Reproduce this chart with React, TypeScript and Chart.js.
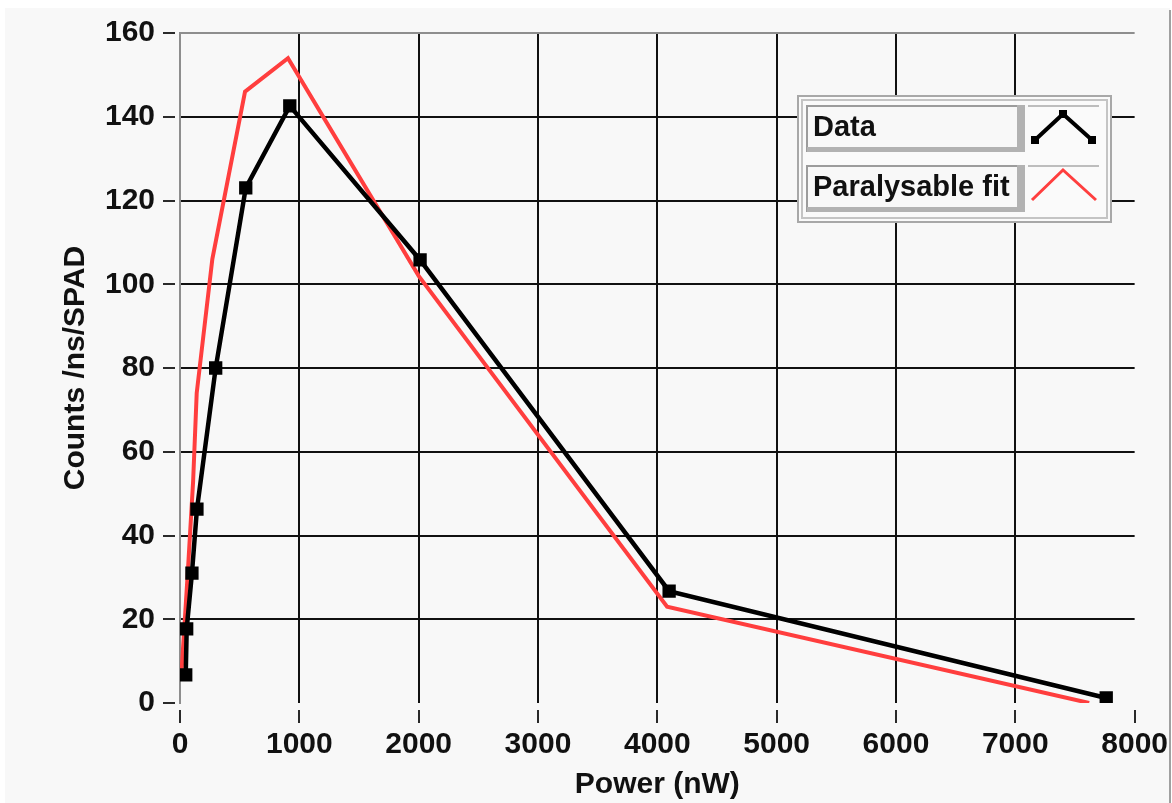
import React, { useEffect, useRef } from 'react';
import { Chart, registerables } from 'chart.js';

Chart.register(...registerables);

// Measured SPAD count rate versus optical power
const powerNW = [48, 56, 100, 142, 299, 551, 920, 2012, 4099, 7762];
const countsPerNs = [6.7, 17.7, 31.0, 46.3, 80.0, 123.0, 142.6, 105.8, 26.7, 1.2];

// Paralysable dead-time model evaluated along the power range
const fitPowerNW = [14, 65, 110, 140, 271, 545, 905, 2000, 4082, 7619];
const fitCounts = [8, 31, 53, 74, 106, 146, 154, 102, 23, 0];

const xTickValues = [0, 1000, 2000, 3000, 4000, 5000, 6000, 7000, 8000];
const yTickValues = [0, 20, 40, 60, 80, 100, 120, 140, 160];

const seriesNames = ['Data', 'Paralysable fit'];
const xTitle = 'Power (nW)';
const yTitle = 'Counts /ns/SPAD';

const FONT_FAMILY = "'Liberation Sans', Arial, sans-serif";
const TEXT_COLOR = '#111111';
const GRID_COLOR = '#111111';
const FRAME_COLOR = '#8e8e8e';
const DATA_COLOR = '#000000';
const FIT_COLOR = '#ff3e3e';

const panelBackground = {
  id: 'panelBackground',
  beforeDraw(chart: any) {
    const { ctx, width, height } = chart;
    ctx.save();
    ctx.fillStyle = '#ffffff';
    ctx.fillRect(0, 0, width, height);
    ctx.fillStyle = '#f8f8f8';
    ctx.fillRect(5, 8, 1165, height - 8);
    ctx.strokeStyle = '#a0a0a0';
    ctx.lineWidth = 2;
    ctx.beginPath();
    ctx.moveTo(1170, 10);
    ctx.lineTo(1170, height);
    ctx.stroke();
    ctx.restore();
  },
};

// Plot legend box: name field on the left, line sample on the right
const plotLegend = {
  id: 'plotLegend',
  afterDraw(chart: any) {
    const { ctx } = chart;
    const left = 797;
    const top = 95;
    const w = 315;
    const h = 128;
    ctx.save();

    ctx.fillStyle = '#fafafa';
    ctx.fillRect(left, top, w, h);
    ctx.strokeStyle = '#a8a8a8';
    ctx.lineWidth = 2;
    ctx.strokeRect(left + 1, top + 1, w - 2, h - 2);
    ctx.strokeStyle = '#c4c4c4';
    ctx.lineWidth = 2;
    ctx.strokeRect(left + 5, top + 5, w - 10, h - 10);

    const rowTops = [105, 165];
    const rowH = 47;
    seriesNames.forEach((name, i) => {
      const y0 = rowTops[i];
      // name field
      ctx.fillStyle = '#f8f8f8';
      ctx.fillRect(807, y0, 216, rowH);
      ctx.strokeStyle = '#9c9c9c';
      ctx.lineWidth = 2;
      ctx.beginPath();
      ctx.moveTo(807, y0 + rowH);
      ctx.lineTo(807, y0 + 1);
      ctx.lineTo(1023, y0 + 1);
      ctx.stroke();
      ctx.fillStyle = '#b2b2b2';
      ctx.fillRect(1017, y0, 8, rowH);
      ctx.fillRect(807, y0 + rowH - 5, 218, 5);

      // sample field
      ctx.strokeStyle = '#bdbdbd';
      ctx.beginPath();
      ctx.moveTo(1028, y0 + 1);
      ctx.lineTo(1099, y0 + 1);
      ctx.stroke();

      ctx.fillStyle = TEXT_COLOR;
      ctx.font = `bold 29px ${FONT_FAMILY}`;
      ctx.textAlign = 'left';
      ctx.textBaseline = 'middle';
      ctx.fillText(name, 813, y0 + 23);

      ctx.lineJoin = 'miter';
      if (i === 0) {
        const pts = [
          [1035, y0 + 35],
          [1063, y0 + 9],
          [1092, y0 + 35],
        ];
        ctx.strokeStyle = DATA_COLOR;
        ctx.lineWidth = 4;
        ctx.beginPath();
        pts.forEach(([px, py], k) => (k ? ctx.lineTo(px, py) : ctx.moveTo(px, py)));
        ctx.stroke();
        ctx.fillStyle = DATA_COLOR;
        pts.forEach(([px, py]) => ctx.fillRect(px - 4, py - 4, 8, 8));
      } else {
        const pts = [
          [1032, y0 + 35],
          [1063, y0 + 5],
          [1096, y0 + 35],
        ];
        ctx.strokeStyle = FIT_COLOR;
        ctx.lineWidth = 3;
        ctx.beginPath();
        pts.forEach(([px, py], k) => (k ? ctx.lineTo(px, py) : ctx.moveTo(px, py)));
        ctx.stroke();
      }
    });
    ctx.restore();
  },
};

const tickFont = { family: FONT_FAMILY, size: 30, weight: 'bold' as const };

export default function App() {
  const canvasRef = useRef<HTMLCanvasElement | null>(null);

  useEffect(() => {
    const canvas = canvasRef.current;
    if (!canvas) return;

    const chart = new Chart(canvas, {
      type: 'line',
      data: {
        datasets: [
          {
            label: seriesNames[0],
            data: powerNW.map((p, i) => ({ x: p, y: countsPerNs[i] })),
            borderColor: DATA_COLOR,
            backgroundColor: DATA_COLOR,
            borderWidth: 4.5,
            pointStyle: 'rect',
            pointRadius: 8,
            pointBorderWidth: 2,
            pointBackgroundColor: DATA_COLOR,
            pointBorderColor: DATA_COLOR,
            tension: 0,
          },
          {
            label: seriesNames[1],
            data: fitPowerNW.map((p, i) => ({ x: p, y: fitCounts[i] })),
            borderColor: FIT_COLOR,
            backgroundColor: FIT_COLOR,
            borderWidth: 4,
            pointRadius: 0,
            tension: 0,
          },
        ],
      },
      options: {
        responsive: false,
        animation: false,
        devicePixelRatio: 1,
        layout: { padding: { left: 0, top: 33, right: 35, bottom: 0 } },
        plugins: {
          legend: { display: false },
          tooltip: { enabled: false },
        },
        scales: {
          x: {
            type: 'linear',
            min: 0,
            max: 8000,
            afterBuildTicks: (s: any) => {
              s.ticks = xTickValues.map((v) => ({ value: v }));
            },
            afterFit: (s: any) => {
              s.height = 100;
            },
            border: { display: false },
            grid: {
              color: (c: any) =>
                c.tick && (c.tick.value === 0 || c.tick.value === 8000) ? 'rgba(0,0,0,0)' : GRID_COLOR,
              lineWidth: 2,
              drawTicks: true,
              tickLength: 20,
              tickWidth: 2,
              tickColor: '#2a2a2a',
              tickBorderDash: [13, 100],
              tickBorderDashOffset: 106,
            },
            ticks: {
              autoSkip: false,
              maxRotation: 0,
              padding: 4,
              color: TEXT_COLOR,
              font: tickFont,
              callback: (v: any) => String(v),
            },
            title: {
              display: true,
              text: xTitle,
              color: TEXT_COLOR,
              font: tickFont,
              padding: { top: 0, bottom: 0 },
            },
          },
          y: {
            type: 'linear',
            min: 0,
            max: 160,
            afterBuildTicks: (s: any) => {
              s.ticks = yTickValues.map((v) => ({ value: v }));
            },
            afterFit: (s: any) => {
              s.width = 180;
            },
            border: { display: true, color: FRAME_COLOR, width: 2 },
            grid: {
              color: (c: any) =>
                c.tick && c.tick.value === 0
                  ? 'rgba(0,0,0,0)'
                  : c.tick && c.tick.value === 160
                  ? FRAME_COLOR
                  : GRID_COLOR,
              lineWidth: 2,
              drawTicks: true,
              tickLength: 17,
              tickWidth: 2,
              tickColor: '#2a2a2a',
              tickBorderDash: [12, 100],
              tickBorderDashOffset: 0,
            },
            ticks: {
              autoSkip: false,
              padding: 8,
              color: TEXT_COLOR,
              font: tickFont,
              callback: (v: any) => String(v),
            },
            title: {
              display: true,
              text: yTitle,
              color: TEXT_COLOR,
              font: tickFont,
              padding: { top: 58, bottom: 0 },
            },
          },
        },
      },
      plugins: [panelBackground, plotLegend],
    } as any);

    return () => chart.destroy();
  }, []);

  return (
    <div style={{ position: 'fixed', left: 0, top: 0, width: 1172, height: 803 }}>
      <canvas ref={canvasRef} width={1172} height={803} style={{ display: 'block' }} />
    </div>
  );
}
